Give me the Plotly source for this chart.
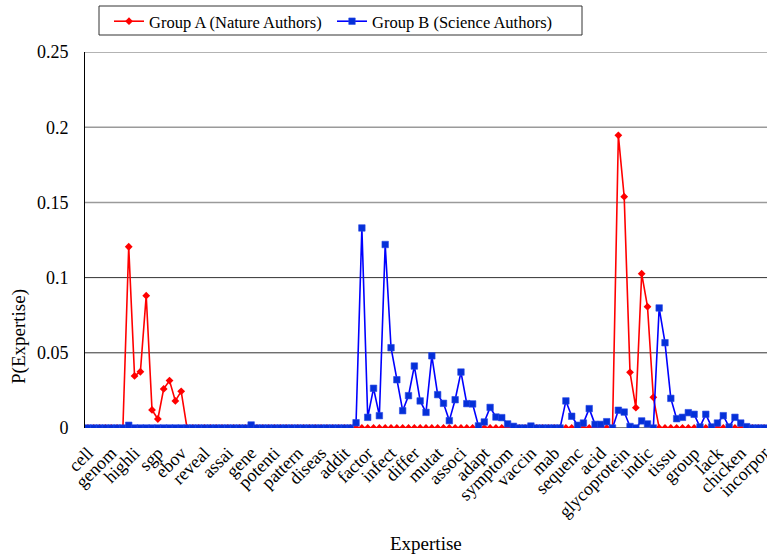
import plotly.graph_objects as go

# Tick labels shown every 4th expertise term (117 terms in total)
tick_labels = [
    "cell", "genom", "highli", "sgp", "ebov", "reveal", "assai", "gene",
    "potenti", "pattern", "diseas", "addit", "factor", "infect", "differ",
    "mutat", "associ", "adapt", "symptom", "vaccin", "mab", "sequenc", "acid",
    "glycoprotein", "indic", "tissu", "group", "lack", "chicken", "incorpor",
]
label_step = 4
n_terms = 117

# P(Expertise) for Group A (Nature authors)
group_a = (
    [0] * 7
    + [0.1205, 0.0346, 0.0374, 0.088, 0.012, 0.006, 0.026, 0.0315, 0.018, 0.0244]
    + [0] * 74
    + [0.1946, 0.1538, 0.037, 0.0135, 0.1026, 0.0807, 0.0204]
    + [0] * 19
)

# P(Expertise) for Group B (Science authors)
group_b = (
    [0] * 7
    + [0.0018]
    + [0] * 20
    + [0.002]
    + [0] * 17
    + [0.0035, 0.133, 0.0071, 0.0264, 0.0082, 0.122, 0.0534, 0.0321, 0.0115,
       0.0215, 0.0412, 0.018, 0.0104, 0.048, 0.0222, 0.0164, 0.0049, 0.0188,
       0.0372, 0.0162, 0.016, 0.0014, 0.004, 0.0137, 0.0073, 0.0069, 0.0027,
       0.0011, 0, 0, 0.0013, 0, 0, 0, 0, 0, 0.018, 0.0078, 0.0018, 0.0033,
       0.0129, 0.0024, 0.0024, 0.0042, 0, 0.0118, 0.0106, 0.001, 0, 0.0047,
       0.0027, 0, 0.0798, 0.0567, 0.0197, 0.0062, 0.0071, 0.0102, 0.0091,
       0.0007, 0.0091, 0.0007, 0.0033, 0.0082, 0.0007, 0.0071, 0.0033, 0.0009,
       0, 0, 0]
)

x = list(range(n_terms))
tick_positions = list(range(0, n_terms, label_step))

FONT = "Liberation Serif"
PLOT_W = 767 - 85

def px_to_paper_x(px):
    return (px - 85) / PLOT_W

fig = go.Figure()
fig.add_trace(go.Scatter(
    x=x, y=group_a, mode="lines+markers", name="Group A (Nature Authors)",
    line=dict(color="#FF0000", width=1.6),
    marker=dict(symbol="diamond", size=6, color="#FF0000"),
))
fig.add_trace(go.Scatter(
    x=x, y=group_b, mode="lines+markers", name="Group B (Science Authors)",
    line=dict(color="#0000FF", width=1.6),
    marker=dict(symbol="square", size=6.5, color="#0530D8",
                line=dict(color="#2848E8", width=0.6)),
))

# Horizontal gridlines and top border
grid_styles = {0.05: ("#333333", 1), 0.1: ("#333333", 1),
               0.15: ("#9a9a9a", 1.5), 0.2: ("#9a9a9a", 1.5),
               0.25: ("#9a9a9a", 1.5)}
for yv, (col, w) in grid_styles.items():
    fig.add_shape(type="line", xref="paper", yref="y", x0=0, x1=1,
                  y0=yv, y1=yv, line=dict(color=col, width=w), layer="below")

# Bottom axis line at zero
fig.add_shape(type="line", xref="paper", yref="y", x0=0, x1=1, y0=0, y1=0,
              line=dict(color="black", width=1.2), layer="below")

# Legend frame
fig.add_shape(type="rect", xref="paper", yref="paper",
              x0=px_to_paper_x(99), x1=px_to_paper_x(582),
              y0=1.0452, y1=1.1223,
              line=dict(color="#333333", width=1), fillcolor="white",
              layer="below")

fig.update_layout(
    width=767, height=555,
    margin=dict(l=85, r=0, t=52, b=127, autoexpand=False),
    paper_bgcolor="white", plot_bgcolor="white",
    font=dict(family=FONT, size=18, color="black"),
    showlegend=True,
    legend=dict(
        orientation="h", x=px_to_paper_x(109), y=1.1277,
        xanchor="left", yanchor="top",
        borderwidth=0, bgcolor="rgba(0,0,0,0)",
        font=dict(family=FONT, size=16.5, color="black"), entrywidth=178,
        tracegroupgap=0, itemwidth=30,
    ),
    xaxis=dict(
        range=[-0.5, n_terms - 0.5], tickmode="array",
        tickvals=tick_positions, ticktext=tick_labels, tickangle=-45,
        showgrid=False, zeroline=False, showline=False, ticks="",
        ticklabelstandoff=10, ticklabeloverflow="allow", automargin=False,
        tickfont=dict(family=FONT, size=18, color="black"),
    ),
    yaxis=dict(
        range=[0, 0.25], tickmode="array",
        tickvals=[0, 0.05, 0.1, 0.15, 0.2, 0.25],
        ticktext=["0", "0.05", "0.1", "0.15", "0.2", "0.25"],
        showgrid=False, zeroline=False, showline=True, linecolor="black",
        linewidth=1, ticks="", ticklabelstandoff=12, automargin=False,
        tickfont=dict(family=FONT, size=18, color="black"),
    ),
    annotations=[
        dict(text="Expertise", xref="paper", yref="paper",
             x=px_to_paper_x(426), y=-0.306,
             showarrow=False, font=dict(family=FONT, size=19),
             xanchor="center", yanchor="middle"),
        dict(text="P(Expertise)", xref="paper", yref="paper",
             x=px_to_paper_x(19), y=0.242, showarrow=False, textangle=-90,
             font=dict(family=FONT, size=19),
             xanchor="center", yanchor="middle"),
    ],
)

fig.write_html("out.html")
